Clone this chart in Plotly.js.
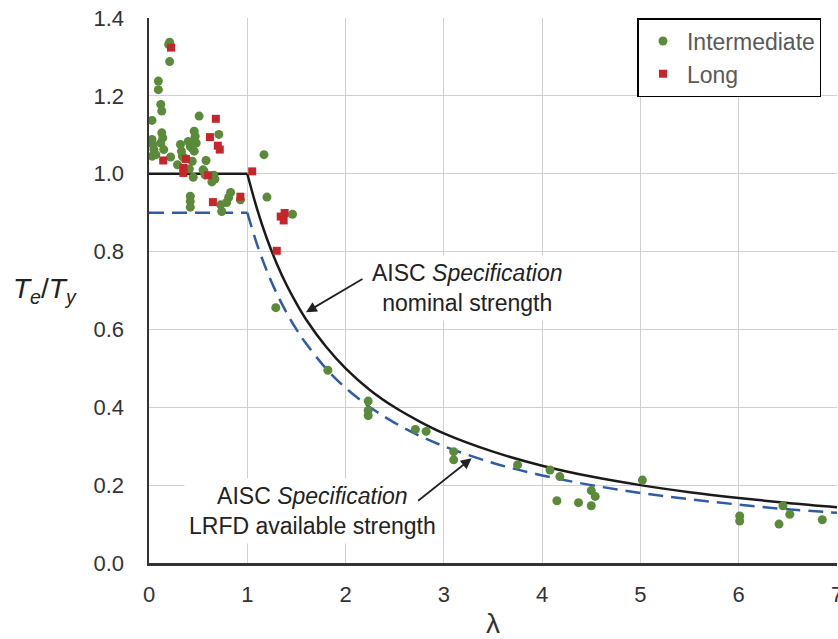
<!DOCTYPE html>
<html>
<head>
<meta charset="utf-8">
<script src="https://cdn.plot.ly/plotly-3.0.1.min.js"></script>
<style>html,body{margin:0;padding:0;background:#fff;}#chart{width:838px;height:639px;}</style>
</head>
<body>
<div id="chart"></div>
<script>
// Intermediate specimens (lambda, Te/Ty)
const interLambda = [0.21,0.20,0.21,0.095,0.095,0.12,0.13,0.03,0.51,0.71,0.46,0.47,0.45,0.48,0.13,0.14,0.12,0.03,0.04,0.05,0.03,0.07,0.15,0.22,0.32,0.33,0.34,0.40,0.42,0.46,0.44,0.29,0.44,0.58,0.41,0.55,0.57,0.66,0.45,0.65,0.67,0.64,0.56,0.36,0.42,0.42,0.42,0.83,0.81,0.79,0.73,0.74,0.93,1.17,1.20,1.46,1.29,1.82,2.23,2.23,2.23,2.71,2.82,3.10,3.10,3.75,4.08,4.18,4.15,4.37,4.50,4.54,4.50,5.02,6.01,6.01,6.45,6.52,6.41,6.85];
const interRatio  = [1.338,1.332,1.288,1.238,1.216,1.178,1.161,1.137,1.148,1.101,1.109,1.096,1.083,1.079,1.105,1.092,1.079,1.088,1.075,1.062,1.045,1.049,1.062,1.043,1.075,1.058,1.045,1.083,1.070,1.058,1.066,1.023,1.032,1.034,1.012,1.010,0.997,0.996,0.991,0.993,0.986,0.979,1.006,1.040,0.942,0.929,0.914,0.952,0.939,0.926,0.920,0.903,0.933,1.049,0.940,0.896,0.656,0.495,0.416,0.392,0.379,0.343,0.338,0.286,0.265,0.252,0.239,0.222,0.160,0.155,0.186,0.171,0.147,0.213,0.121,0.108,0.147,0.125,0.100,0.111];

// Long specimens
const longLambda = [0.224,0.68,0.62,0.70,0.72,0.145,0.376,0.35,0.35,0.60,0.65,0.93,1.05,1.34,1.38,1.37,1.30];
const longRatio  = [1.324,1.141,1.094,1.072,1.062,1.034,1.038,1.015,1.002,0.996,0.927,0.941,1.006,0.890,0.899,0.880,0.802];

// AISC curves: plateau (lambda <= 1) and descending branch (lambda >= 1)
const plateauLambda  = [0,1];
const plateauNominal = [1,1];
const plateauLrfd    = [0.9,0.9];
const branchLambda   = [1,1.1,1.2,1.3,1.4,1.5,1.6,1.8,2,2.25,2.5,2.75,3,3.5,4,4.5,5,5.5,6,6.5,7];
const branchNominal  = [1,0.909,0.833,0.769,0.714,0.667,0.625,0.556,0.5,0.444,0.4,0.364,0.333,0.286,0.25,0.222,0.2,0.182,0.167,0.154,0.143];
const branchLrfd     = [0.9,0.818,0.75,0.692,0.643,0.6,0.563,0.5,0.45,0.4,0.36,0.327,0.3,0.257,0.225,0.2,0.18,0.164,0.15,0.138,0.129];

const xTicks = [0,1,2,3,4,5,6,7];
const yTicks = [0,0.2,0.4,0.6,0.8,1.0,1.2,1.4];
const yTickText = ['0.0','0.2','0.4','0.6','0.8','1.0','1.2','1.4'];

const FONT = 'Liberation Sans, Arial, sans-serif';
const BLUE = '#2f5ca8', BLACK = '#1a1a1a';

function curve(x, y, color, dash, shape) {
  return {x: x, y: y, mode:'lines', line:{color:color, width:2.5, dash:dash, shape:shape}, showlegend:false, hoverinfo:'skip'};
}

const traces = [
  curve(plateauLambda, plateauLrfd, BLUE, '15px,8px', 'linear'),
  curve(branchLambda, branchLrfd, BLUE, '15px,8px', 'spline'),
  curve(plateauLambda, plateauNominal, BLACK, 'solid', 'linear'),
  curve(branchLambda, branchNominal, BLACK, 'solid', 'spline'),
  {x: interLambda, y: interRatio, mode:'markers', name:'Intermediate', marker:{symbol:'circle', size:9, color:'#5a8a3a'}},
  {x: longLambda, y: longRatio, mode:'markers', name:'Long', marker:{symbol:'square', size:8, color:'#c8252b'}}
];

const layout = {
  width: 838, height: 639,
  margin: {l:149, r:1, t:18, b:76},
  paper_bgcolor:'#fff', plot_bgcolor:'#fff',
  font: {family: FONT, size: 22, color:'#333'},
  showlegend: true,
  legend: {x:0.71, y:1.0, xanchor:'left', yanchor:'top', bgcolor:'#fff', bordercolor:'#000', borderwidth:1.5,
           itemwidth:38, entrywidth:144, entrywidthmode:'pixels',
           font:{family:FONT, size:23, color:'#595959'}, tracegroupgap:0},
  xaxis: {range:[0,7], tickvals:xTicks, showgrid:true, gridcolor:'#d0d0d0', gridwidth:1.2,
          zeroline:false, showline:true, linecolor:'#333', linewidth:2.5, ticks:'',
          ticklabelstandoff: 10, ticklabeloverflow:'allow',
          tickfont:{family:FONT, size:22, color:'#333'},
          title:{text:'λ', font:{family:FONT, size:28, color:'#333'}, standoff:16}},
  yaxis: {range:[0,1.4], tickvals:yTicks, ticktext:yTickText, showgrid:true, gridcolor:'#d0d0d0', gridwidth:1.2,
          zeroline:false, showline:true, linecolor:'#333', linewidth:2.5, ticks:'',
          ticklabelstandoff: 18,
          tickfont:{family:FONT, size:22, color:'#333'}},
  annotations: [
    {xref:'paper', yref:'paper', x:-0.151, y:0.5, xanchor:'center', yanchor:'middle', showarrow:false,
     text:'<i>T</i><sub><i>e</i></sub>/<i>T</i><sub><i>y</i></sub>', font:{family:FONT, size:28, color:'#222'}},
    {xref:'x', yref:'y', x:3.245, y:0.706, showarrow:false, bgcolor:'#fff', borderpad:4,
     text:'AISC <i>Specification</i><br>nominal strength', font:{family:FONT, size:23, color:'#222'}},
    {xref:'x', yref:'y', x:1.597, y:0.644, axref:'x', ayref:'y', ax:2.187, ay:0.732, text:'', showarrow:true,
     arrowhead:2, arrowsize:1.2, arrowwidth:1.8, arrowcolor:'#222'},
    {xref:'x', yref:'y', x:1.668, y:0.134, showarrow:false, bgcolor:'#fff', borderpad:4,
     text:'AISC <i>Specification</i><br>LRFD available strength', font:{family:FONT, size:23, color:'#222'}},
    {xref:'x', yref:'y', x:3.283, y:0.269, axref:'x', ayref:'y', ax:2.723, ay:0.157, text:'', showarrow:true,
     arrowhead:2, arrowsize:1.2, arrowwidth:1.8, arrowcolor:'#222'}
  ]
};

Plotly.newPlot('chart', traces, layout, {displayModeBar:false, staticPlot:true});
</script>
</body>
</html>
